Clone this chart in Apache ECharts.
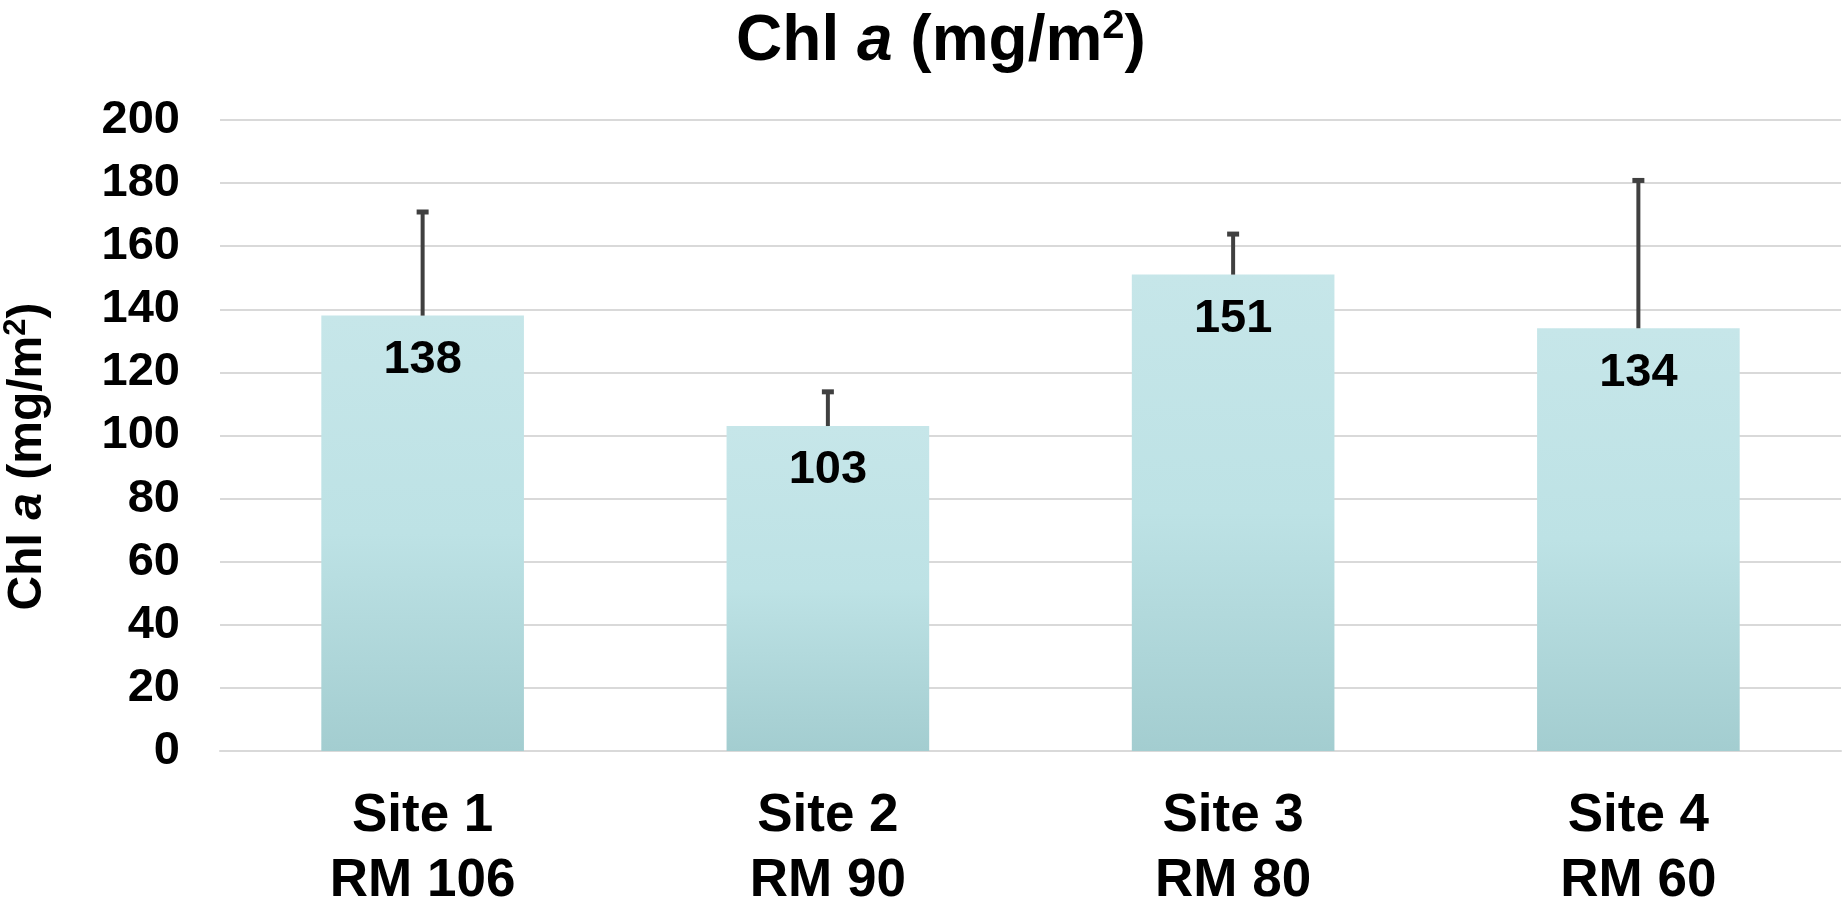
<!DOCTYPE html>
<html><head><meta charset="utf-8">
<script src="https://cdn.jsdelivr.net/npm/echarts@6/dist/echarts.min.js"></script>
<style>html,body{margin:0;padding:0;background:#fff}#c{width:1845px;height:901px}</style>
</head><body><div id="c"></div>
<script>
const categories = ['Site 1\nRM 106', 'Site 2\nRM 90', 'Site 3\nRM 80', 'Site 4\nRM 60'];
const means = [138, 103, 151, 134];
const errorsPlus = [33, 11, 13, 47];
const yMin = 0, yMax = 200, yStep = 20;

const FONT = '"Liberation Sans", Arial, sans-serif';
const chart = echarts.init(document.getElementById('c'), null, {renderer: 'canvas'});

const option = {
  backgroundColor: '#ffffff',
  animation: false,
  title: {
    text: '{n|Chl }{i|a}{n| (mg/m}{s|2}{n|)}',
    left: 936, top: 2, textAlign: 'center',
    textStyle: {
      rich: {
        n: {fontFamily: FONT, fontWeight: 'bold', fontSize: 64, color: '#000'},
        i: {fontFamily: FONT, fontWeight: 'bold', fontStyle: 'italic', fontSize: 64, color: '#000'},
        s: {fontFamily: FONT, fontWeight: 'bold', fontSize: 40, color: '#000', padding: [0, 0, 30, 0]}
      }
    }
  },
  grid: {left: 220, right: 4, top: 120, bottom: 150, containLabel: false, outerBoundsMode: 'none'},
  xAxis: {
    type: 'category',
    data: categories,
    axisLine: {show: true, lineStyle: {color: '#d9d9d9', width: 2}},
    axisTick: {show: false},
    axisLabel: {
      interval: 0, margin: 33, color: '#000', fontFamily: FONT, fontWeight: 'bold',
      fontSize: 53, lineHeight: 65
    }
  },
  yAxis: {
    type: 'value', min: yMin, max: yMax, interval: yStep,
    name: '{n|Chl }{i|a}{n| (mg/m}{s|2}{n|)}',
    nameLocation: 'middle', nameRotate: 90, nameGap: 166,
    nameTextStyle: {
      padding: [0, 42, 0, 0],
      rich: {
        n: {fontFamily: FONT, fontWeight: 'bold', fontSize: 48, color: '#000'},
        i: {fontFamily: FONT, fontWeight: 'bold', fontStyle: 'italic', fontSize: 48, color: '#000'},
        s: {fontFamily: FONT, fontWeight: 'bold', fontSize: 31, color: '#000', padding: [0, 0, 22, 0]}
      }
    },
    axisLine: {show: false}, axisTick: {show: false},
    axisLabel: {margin: 40, color: '#000', fontFamily: FONT, fontWeight: 'bold', fontSize: 47},
    splitLine: {show: true, lineStyle: {color: '#d9d9d9', width: 2}}
  },
  series: [
    {
      type: 'bar',
      data: means,
      barWidth: '50%',
      itemStyle: {
        color: new echarts.graphic.LinearGradient(0, 0, 0, 1, [
          {offset: 0, color: '#c6e6e9'},
          {offset: 0.5, color: '#bde2e5'},
          {offset: 1, color: '#a3cdd0'}
        ])
      },
      label: {
        show: true, position: 'insideTop', distance: 21,
        color: '#000', fontFamily: FONT, fontWeight: 'bold', fontSize: 47
      },
      z: 2
    },
    {
      type: 'custom',
      data: means.map((m, i) => [i, m, errorsPlus[i]]),
      renderItem: function (params, api) {
        const i = api.value(0), m = api.value(1), e = api.value(2);
        const p0 = api.coord([i, m]);
        const p1 = api.coord([i, m + e]);
        return {
          type: 'group',
          children: [
            {type: 'line', shape: {x1: p0[0], y1: p0[1], x2: p1[0], y2: p1[1]},
             style: {stroke: '#404040', lineWidth: 4}},
            {type: 'rect', shape: {x: p1[0] - 6, y: p1[1] - 2, width: 12, height: 5},
             style: {fill: '#404040'}}
          ]
        };
      },
      z: 3
    }
  ]
};
chart.setOption(option);
</script></body></html>
